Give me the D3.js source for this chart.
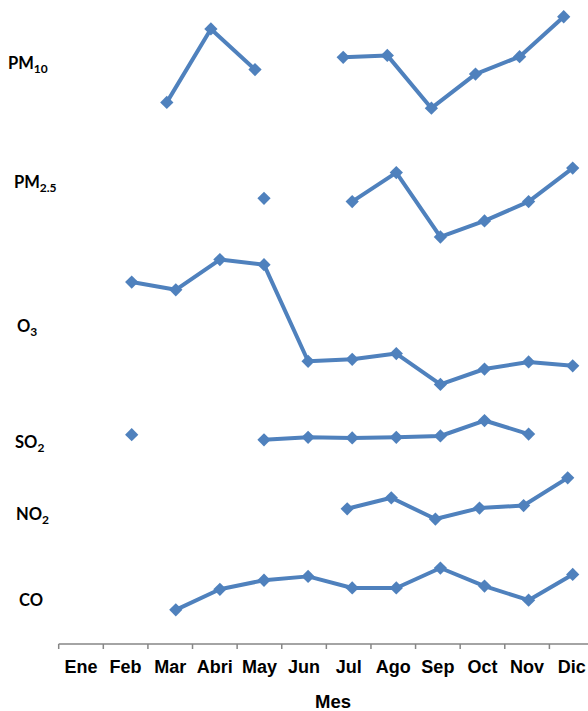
<!DOCTYPE html>
<html>
<head>
<meta charset="utf-8">
<script src="https://cdn.jsdelivr.net/npm/d3@7"></script>
<style>
  html, body { margin: 0; padding: 0; background: #fff; }
  svg { display: block; }
</style>
</head>
<body>
<svg id="chart" width="588" height="711"></svg>
<script>
// ---- data (hidden stacked value axis, 0-100 units) ----
const months = ["Ene","Feb","Mar","Abri","May","Jun","Jul","Ago","Sep","Oct","Nov","Dic"];
const pm10 = [null, null, 84.1, 95.5, 89.2, null, 91.1, 91.4, 83.2, 88.5, 91.2, 97.4];
const pm25 = [null, null, null, null, 69.2, null, 68.7, 73.2, 63.2, 65.7, 68.7, 73.9];
const o3   = [null, 56.2, 55.0, 59.7, 58.9, 43.9, 44.2, 45.1, 40.3, 42.7, 43.8, 43.2];
const so2  = [null, 32.5, null, null, 31.7, 32.1, 32.0, 32.1, 32.3, 34.7, 32.6, null];
const no2  = [null, null, null, null, null, null, 21.0, 22.7, 19.4, 21.1, 21.5, 25.8];
const co   = [null, null, 5.3, 8.5, 9.9, 10.5, 8.7, 8.7, 11.8, 9.0, 6.8, 10.8];
const seriesNames = ["PM10","PM2.5","O3","SO2","NO2","CO"];
const xTitle = "Mes";

// ---- layout ----
const W = 588, H = 711;
const axisY = 644;
const color = "#4F81BD";
const seriesList = [
  {name: "PM10",  main: "PM", sub: "10",  values: pm10, shift: -9, lx: 8,  ly: 68.5},
  {name: "PM2.5", main: "PM", sub: "2.5", values: pm25, shift: 0,  lx: 14, ly: 187.7},
  {name: "O3",    main: "O",  sub: "3",   values: o3,   shift: 0,  lx: 17, ly: 331.7},
  {name: "SO2",   main: "SO", sub: "2",   values: so2,  shift: 0,  lx: 15, ly: 448.3},
  {name: "NO2",   main: "NO", sub: "2",   values: no2,  shift: -5, lx: 16, ly: 520},
  {name: "CO",    main: "CO", sub: "",    values: co,   shift: 0,  lx: 19, ly: 605.7}
];

const svg = d3.select("#chart");

// axis band scale (categories between ticks)
const xBand = d3.scaleBand().domain(months).range([58.7, 594]).padding(0);
// marker positions
const xPt = d3.scalePoint().domain(months).range([87.6, 572.7]);
const y = d3.scaleLinear().domain([0, 100]).range([axisY, 0]);

// axis line
svg.append("line")
  .attr("x1", xBand.range()[0]).attr("x2", xBand.range()[1])
  .attr("y1", axisY).attr("y2", axisY)
  .attr("stroke", "#868686").attr("stroke-width", 1.5);

// ticks at category boundaries
svg.append("g").selectAll("line")
  .data(months.concat(["__end"]))
  .join("line")
  .attr("x1", d => d === "__end" ? xBand.range()[1] : xBand(d))
  .attr("x2", d => d === "__end" ? xBand.range()[1] : xBand(d))
  .attr("y1", axisY).attr("y2", axisY + 5)
  .attr("stroke", "#868686").attr("stroke-width", 1.5);

// category labels
svg.append("g").selectAll("text")
  .data(months)
  .join("text")
  .attr("x", d => xBand(d) + xBand.bandwidth() / 2)
  .attr("y", 672.7)
  .attr("text-anchor", "middle")
  .attr("font-family", "'Liberation Sans', Arial, sans-serif")
  .attr("font-weight", "bold")
  .attr("font-size", 18)
  .attr("fill", "#000")
  .text(d => d);

// axis title
svg.append("text")
  .attr("x", 333).attr("y", 708)
  .attr("text-anchor", "middle")
  .attr("font-family", "'Liberation Sans', Arial, sans-serif")
  .attr("font-weight", "bold")
  .attr("font-size", 18.5)
  .attr("fill", "#000")
  .text(xTitle);

// series
const diamond = d3.symbol().type(d3.symbolSquare).size(88);
seriesList.forEach(s => {
  const pts = months.map((m, i) => ({m, v: s.values[i]}));
  const line = d3.line()
    .defined(d => d.v !== null)
    .x(d => xPt(d.m) + s.shift)
    .y(d => y(d.v));
  svg.append("path")
    .datum(pts)
    .attr("d", line)
    .attr("fill", "none")
    .attr("stroke", color)
    .attr("stroke-width", 4)
    .attr("stroke-linejoin", "round");
  svg.append("g").selectAll("path")
    .data(pts.filter(d => d.v !== null))
    .join("path")
    .attr("d", diamond)
    .attr("transform", d => `translate(${xPt(d.m) + s.shift},${y(d.v)}) rotate(45)`)
    .attr("fill", color);

  const t = svg.append("text")
    .attr("x", s.lx).attr("y", s.ly)
    .attr("font-family", "Lato, 'Open Sans', sans-serif")
    .attr("font-weight", "bold")
    .attr("font-size", 16.5)
    .attr("fill", "#000");
  t.append("tspan").text(s.main);
  if (s.sub) {
    t.append("tspan").attr("font-size", 12).attr("dy", 4).text(s.sub);
  }
});
</script>
</body>
</html>
